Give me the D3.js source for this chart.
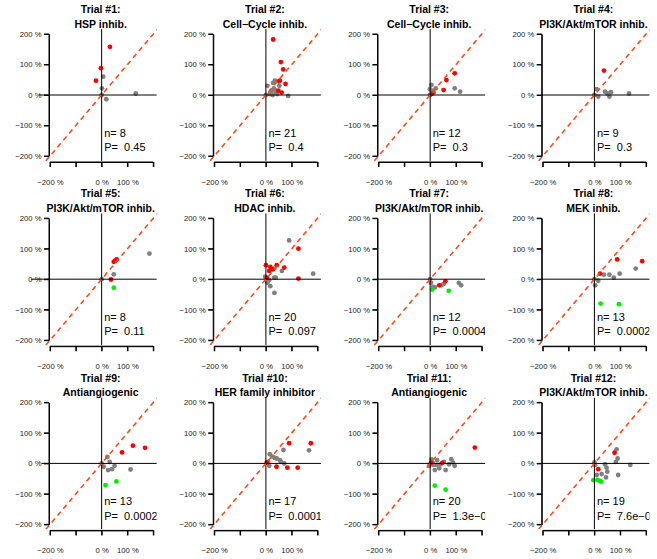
<!DOCTYPE html>
<html><head><meta charset="utf-8">
<script src="https://cdn.jsdelivr.net/npm/d3@7/dist/d3.min.js"></script>
<style>
html,body{margin:0;padding:0;background:#fff;}
svg text{font-family:"Liberation Sans",Arial,Helvetica,sans-serif;}
</style></head>
<body><svg id="chart" width="657" height="559"></svg>
<script>
// ---------------- data ----------------
const trialTitles = ["Trial #1:","Trial #2:","Trial #3:","Trial #4:","Trial #5:","Trial #6:",
  "Trial #7:","Trial #8:","Trial #9:","Trial #10:","Trial #11:","Trial #12:"];
const drugClasses = ["HSP inhib.","Cell\u2212Cycle inhib.","Cell\u2212Cycle inhib.","PI3K/Akt/mTOR inhib.",
  "PI3K/Akt/mTOR inhib.","HDAC inhib.","PI3K/Akt/mTOR inhib.","MEK inhib.",
  "Antiangiogenic","HER family inhibitor","Antiangiogenic","PI3K/Akt/mTOR inhib."];
const nValues = [8,21,12,9,8,20,12,13,13,17,20,19];
const pValues = ["0.45","0.4","0.3","0.3","0.11","0.097","0.0004","0.0002","0.0002","0.0001","1.3e\u221205","7.6e\u221205"];
const axisTicks = [-200,-100,0,100,200];
const xLabelTicks = [-200,0,100];
const yLabelTicks = [-200,-100,0,100,200];

// points per trial: [x %, y %]
const redPts = [
  [[32,158],[-3,88],[-22,47]],
  [[28,182],[58,108],[67,84],[54,47],[50,45],[76,36],[48,14],[61,8]],
  [[95,71],[63,49],[52,16],[8,5]],
  [[37,80]],
  [[58,65],[47,57],[52,61],[36,-1]],
  [[0,46],[17,40],[13,27],[42,46],[71,38],[126,100],[126,2],[26,32],[4,5]],
  [[35,-20],[59,-7]],
  [[22,18],[88,65],[185,59]],
  [[79,36],[121,58],[168,51]],
  [[90,66],[174,66],[41,-11],[83,-14],[123,-14],[3,3]],
  [[173,52],[47,2],[3,2]],
  [[78,35],[15,-19]]
];
const grayPts = [
  [[6,60],[1,22],[18,-14],[132,5],[0,0]],
  [[6,30],[35,47],[28,40],[52,30],[22,14],[35,16],[15,3],[26,0],[39,8],[86,-3],[31,22],[44,3],[0,0]],
  [[5,33],[-1,19],[22,22],[14,8],[10,14],[95,22],[116,11],[0,0]],
  [[9,19],[15,-5],[41,11],[58,-5],[64,9],[134,5],[50,5],[0,0]],
  [[47,16],[185,84],[0,0]],
  [[90,127],[62,27],[32,5],[38,5],[6,-12],[17,-23],[33,-45],[183,18],[-3,8],[32,35],[13,-3]],
  [[3,-12],[18,-27],[43,-20],[52,-16],[111,-12],[120,-20],[12,-25],[0,0]],
  [[3,-20],[15,-5],[37,15],[58,15],[75,5],[98,18],[160,35],[0,0]],
  [[22,21],[31,5],[8,-11],[25,-22],[40,-19],[50,-8],[112,-20],[0,0]],
  [[15,30],[26,22],[42,16],[54,11],[71,0],[68,44],[167,43],[13,-8],[9,5],[58,5],[35,18]],
  [[5,13],[27,11],[18,-22],[35,-16],[60,-22],[82,14],[88,3],[95,-8],[73,-3],[12,-5],[-4,-8],[40,-3],[53,5],[24,-5],[10,2]],
  [[86,46],[90,16],[83,5],[92,-38],[139,-5],[41,-3],[47,-14],[50,-27],[28,-35],[45,-46],[9,-38],[3,-5],[0,3]]
];
const greenPts = [
  [],[],[],[],
  [[47,-28]],
  [],
  [[8,-34],[72,-38]],
  [[24,-80],[95,-82]],
  [[15,-71],[57,-59]],
  [],
  [[18,-73],[60,-86]],
  [[-4,-55],[12,-54],[26,-60],[20,-57]]
];
// left end (in %) of the horizontal zero line
const zeroLineStart = [-243,-204,-204,-204,-274,-204,-204,-204,-233,-204,-204,-204];

// ---------------- drawing ----------------
const svg = d3.select("#chart");
const defs = svg.append("defs");
const colPitch = 657/4, rowPitch = 184.2;
const fmt = d => (d < 0 ? "\u2212" + Math.abs(d) : d) + " %";

trialTitles.forEach((t, i) => {
  const c = i % 4, r = Math.floor(i / 4);
  const x = d3.scaleLinear().domain([-200, 200]).range([50 + c*colPitch, 153.3 + c*colPitch]);
  const y = d3.scaleLinear().domain([-200, 200]).range([156 + r*rowPitch, 34 + r*rowPitch]);
  const g = svg.append("g");

  defs.append("clipPath").attr("id", "clip" + i).append("rect")
    .attr("x", x(-300)).attr("y", y(216))
    .attr("width", x(213) - x(-300)).attr("height", y(-216) - y(216));
  defs.append("clipPath").attr("id", "aclip" + i).append("rect")
    .attr("x", x(-300)).attr("y", y(216))
    .attr("width", x(230) - x(-300)).attr("height", y(-250) - y(216));
  const plot = g.append("g").attr("clip-path", "url(#clip" + i + ")");
  const axl = g.append("g").attr("clip-path", "url(#aclip" + i + ")");

  // points
  const layers = [[grayPts[i], "#808080"], [redPts[i], "#ff0000"], [greenPts[i], "#00ee00"]];
  layers.forEach(([pts, col]) => {
    plot.selectAll(null).data(pts).enter().append("circle")
      .attr("cx", d => x(d[0])).attr("cy", d => y(d[1])).attr("r", 2.4)
      .attr("fill", col);
  });

  // zero lines
  plot.append("line").attr("x1", x(zeroLineStart[i])).attr("x2", x(216))
    .attr("y1", y(0)).attr("y2", y(0)).attr("stroke", "#000").attr("stroke-width", 1);
  plot.append("line").attr("x1", x(0)).attr("x2", x(0))
    .attr("y1", y(216)).attr("y2", y(-216)).attr("stroke", "#000").attr("stroke-width", 1);
  // identity line
  plot.append("line").attr("x1", x(-216)).attr("y1", y(-216)).attr("x2", x(216)).attr("y2", y(216))
    .attr("stroke", "#ff4a1c").attr("stroke-width", 1.6).attr("stroke-dasharray", "5,4");

  // n / P text
  const tx = plot.append("g").attr("font-size", "11px").attr("fill", "#000");
  tx.append("text").attr("x", x(10)).attr("y", y(-125)).attr("dy", "0.36em").text("n= " + nValues[i]);
  tx.append("text").attr("x", x(10)).attr("y", y(-171)).attr("dy", "0.36em")
    .style("white-space", "pre").text("P=  " + pValues[i]);

  // axes: d3 axes for ticks and labels
  const xPos = y(-200) + 6, yPos = x(-200) - 1;
  const xAxis = d3.axisBottom(x).tickValues(axisTicks).tickSize(5).tickSizeOuter(0).tickPadding(12.5)
    .tickFormat(d => xLabelTicks.includes(d) ? fmt(d) : "");
  const gx = g.append("g").attr("transform", `translate(0,${xPos})`).call(xAxis);
  const yAxis = d3.axisLeft(y).tickValues(axisTicks).tickSize(5).tickSizeOuter(0).tickPadding(2.5)
    .tickFormat(d => yLabelTicks.includes(d) ? fmt(d) : "");
  const gy = g.append("g").attr("transform", `translate(${yPos},0)`).call(yAxis);
  [gx, gy].forEach(a => {
    a.selectAll("text").attr("font-size", "7.7px").attr("fill", "#222");
    a.selectAll("path,line").attr("stroke", "#000").attr("stroke-width", 1);
  });
  // axis lines also drawn as plain lines, in the same way as the zero lines
  axl.append("line").attr("x1", x(-200)).attr("x2", x(200)).attr("y1", xPos).attr("y2", xPos)
    .attr("stroke", "#000").attr("stroke-width", 1);
  axl.append("line").attr("x1", yPos).attr("x2", yPos).attr("y1", y(-200)).attr("y2", y(200))
    .attr("stroke", "#000").attr("stroke-width", 1);
  axl.selectAll(null).data(axisTicks).enter().append("line")
    .attr("x1", d => x(d)).attr("x2", d => x(d)).attr("y1", xPos).attr("y2", xPos + 5)
    .attr("stroke", "#000").attr("stroke-width", 1);
  axl.selectAll(null).data(axisTicks).enter().append("line")
    .attr("y1", d => y(d)).attr("y2", d => y(d)).attr("x1", yPos).attr("x2", yPos - 5)
    .attr("stroke", "#000").attr("stroke-width", 1);

  // titles
  const cx = (x(-200) + x(200)) / 2 - 1;
  const tg = g.append("g").attr("font-weight", "bold").attr("font-size", "10.5px").attr("text-anchor", "middle");
  tg.append("text").attr("x", cx).attr("y", y(200) - 20.8).text(t);
  tg.append("text").attr("x", cx).attr("y", y(200) - 6).text(drugClasses[i]);
});
</script></body></html>
